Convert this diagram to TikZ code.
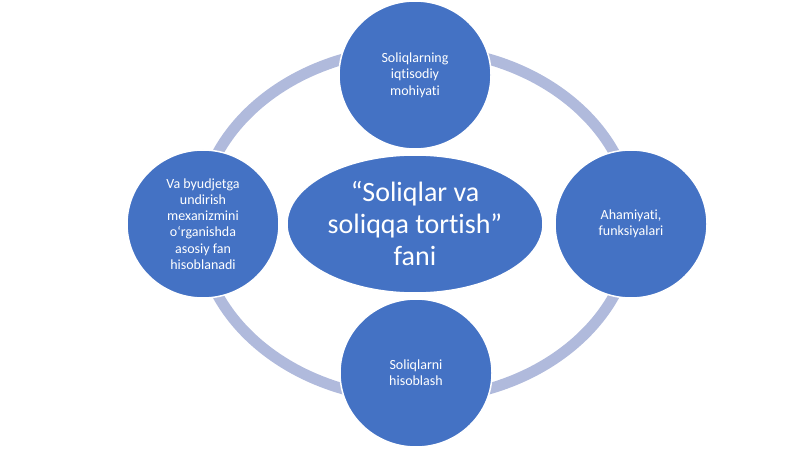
\documentclass[tikz,border=0pt]{standalone}
\usepackage{fontspec}
\setmainfont[Ligatures={NoCommon}]{Carlito}
\usetikzlibrary{shapes.geometric}
\definecolor{cycblue}{HTML}{4472C4}
\definecolor{ringgrey}{HTML}{B0BADC}
\tikzstyle{bubble} = [ellipse, draw=white, line width=1.5pt, fill=cycblue,
    text=white, minimum width=152pt, minimum height=148pt, inner sep=0pt,
    align=center, font=\fontsize{14}{16.3}\selectfont]
\tikzstyle{hub} = [ellipse, draw=white, line width=1.5pt, fill=cycblue,
    text=white, minimum width=256pt, minimum height=138pt, inner sep=0pt,
    align=center, font=\fontsize{28}{32}\selectfont]
\begin{document}
\begin{tikzpicture}[
x = 1pt, y = -1pt,
ring/.style = {draw=ringgrey, line width=11pt}
                        ]
\useasboundingbox (0,0) rectangle (800,449);
\coordinate (mid) at (416,224);
% the cycle behind the circles
\draw [ring] (mid) ellipse [x radius=217pt, y radius=175pt];
\node [hub] (fan) at (415,224) {“Soliqlar va\\soliqqa tortish”\\fani};
\node [bubble] (mohiyat) at (415,75) {Soliqlarning\\iqtisodiy\\mohiyati};
\node [bubble] (funksiya) at (631,224) {Ahamiyati,\\funksiyalari};
\node [bubble] (hisob) at (416,373) {Soliqlarni\\hisoblash};
\node [bubble] (mexanizm) at (203,224) {Va byudjetga\\undirish\\mexanizmini\\o‘rganishda\\asosiy fan\\hisoblanadi};
\end{tikzpicture}
\end{document}
